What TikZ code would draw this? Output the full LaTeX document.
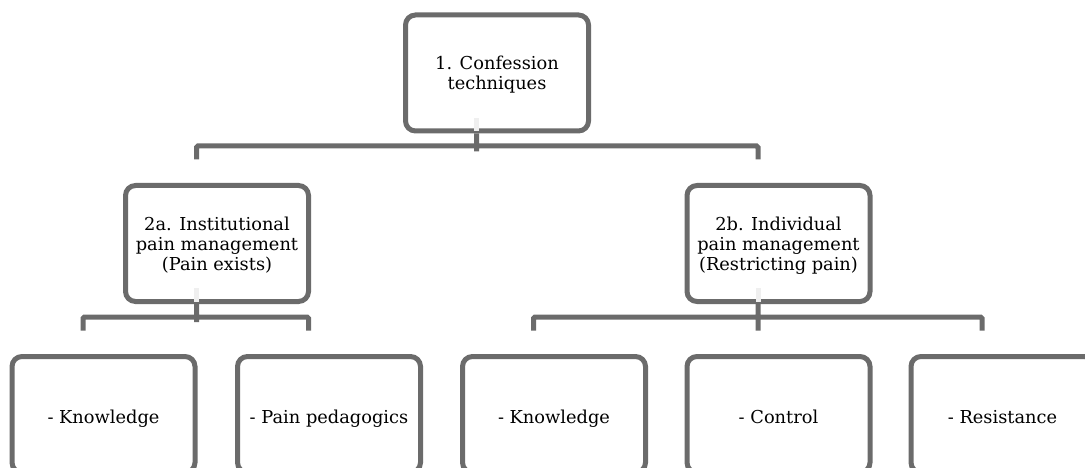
\documentclass[tikz,border=0pt]{standalone}
\usepackage{fontspec}
\setmainfont{DejaVu Serif}
\usepackage{tikz}
\usepackage{xcolor}
\usetikzlibrary{calc, positioning}

\definecolor{linegray}{HTML}{6B6B6B}
\definecolor{ghostgray}{HTML}{EFEFEF}

\begin{document}
\begin{tikzpicture}[x=1pt, y=-1pt,
    box/.style={draw=linegray, line width=5pt, rounded corners=10pt, minimum width=183pt, minimum height=116pt, inner sep=0pt, align=center, text depth=0pt, font=\fontsize{17.8}{20}\selectfont},
    leaf/.style={box, text height=17pt},
    link/.style={draw=linegray, line width=5pt, rounded corners=1.5pt},
    ghost/.style={draw=ghostgray, line width=5pt}]
    \useasboundingbox (0, 0) rectangle (1085, 468);
    \clip (0, 0) rectangle (1085, 468);

    \node[box] (conf) at (497, 73) {1. Confession\\techniques};
    \node[box] (inst) at (217, 243.5) {2a. Institutional\\pain management\\(Pain exists)};
    \node[box] (indiv) at (778.5, 243.5) {2b. Individual\\pain management\\(Restricting pain)};
    \node[leaf] (know1) at (103.5, 414.5) {- Knowledge};
    \node[leaf] (pedag) at (329, 414.5) {- Pain pedagogics};
    \node[leaf] (know2) at (554, 414.5) {- Knowledge};
    \node[leaf] (contr) at (778.5, 414.5) {- Control};
    \node[leaf] (resist) at (1002.5, 414.5) {- Resistance};

    % faint stubs left inside the boxes
    \draw[ghost]
    ($(conf.south) + (-20.5, -15.5)$) -- ($(conf.south) + (-20.5, -2.5)$)
    ($(inst.south) + (-20.5, -16)$) -- ($(inst.south) + (-20.5, -2.5)$)
    ($(indiv.south) + (-20.5, -16)$) -- ($(indiv.south) + (-20.5, -2.5)$);

    % level 1
    \draw[link]
    ($(conf.south) + (-20.5, 0)$) -- ($(conf.south) + (-20.5, 18)$)
    ($(inst.north) + (-20.5, -23.5)$) -- ($(inst.north) + (-20.5, -37)$) -- ($(indiv.north) + (-20.5, -37)$) -- ($(indiv.north) + (-20.5, -23.5)$);

    % level 2
    \draw[link]
    ($(inst.south) + (-20.5, 0)$) -- ($(inst.south) + (-20.5, 18)$)
    ($(know1.north) + (-20.5, -23.5)$) -- ($(know1.north) + (-20.5, -37)$) -- ($(pedag.north) + (-20.5, -37)$) -- ($(pedag.north) + (-20.5, -23.5)$)
    ($(indiv.south) + (-20.5, 0)$) -- ($(contr.north) + (-20.5, -23.5)$)
    ($(know2.north) + (-20.5, -23.5)$) -- ($(know2.north) + (-20.5, -37)$) -- ($(resist.north) + (-20.5, -37)$) -- ($(resist.north) + (-20.5, -23.5)$);
\end{tikzpicture}
\end{document}
